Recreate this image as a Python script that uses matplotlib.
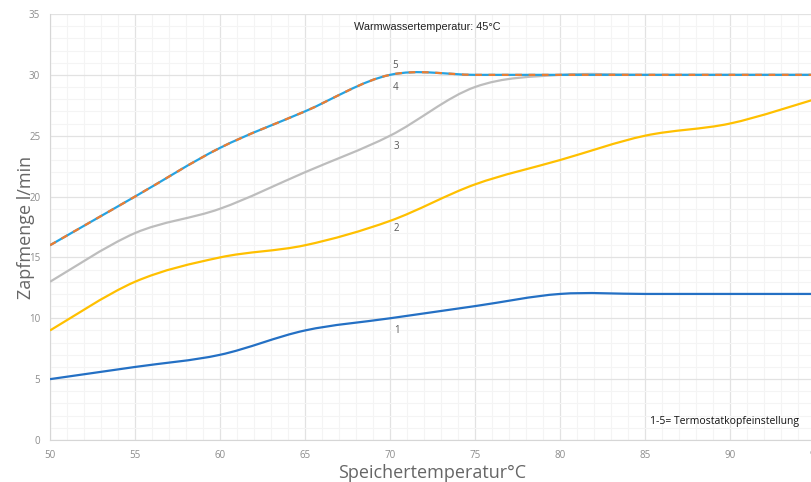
import matplotlib
matplotlib.use("Agg")
import matplotlib.pyplot as plt
import matplotlib.ticker as ticker
from matplotlib.path import Path
from matplotlib.patches import PathPatch

# ---- data ----
temps = [50, 55, 60, 65, 70, 75, 80, 85, 90, 95]
flow_1 = [5, 6, 7, 9, 10, 11, 12, 12, 12, 12]
flow_2 = [9, 13, 15, 16, 18, 21, 23, 25, 26, 28]
flow_3 = [13, 17, 19, 22, 25, 29, 30, 30, 30, 30]
flow_4 = [16, 20, 24, 27, 30, 30, 30, 30, 30, 30]
flow_5 = [16, 20, 24, 27, 30, 30, 30, 30, 30, 30]

labels = ["1", "2", "3", "4", "5"]
label_pos = [(70.4, 9.0), (70.4, 17.4), (70.4, 24.1), (70.3, 29.0), (70.3, 30.8)]


def smooth_path(xs, ys):
    # Excel-style smoothed line: cubic Bezier segments through the points
    verts = [(xs[0], ys[0])]
    codes = [Path.MOVETO]
    n = len(xs)
    for i in range(n - 1):
        x0, y0 = (xs[i - 1], ys[i - 1]) if i > 0 else (xs[i], ys[i])
        x1, y1 = xs[i], ys[i]
        x2, y2 = xs[i + 1], ys[i + 1]
        x3, y3 = (xs[i + 2], ys[i + 2]) if i + 2 < n else (x2, y2)
        c1 = (x1 + (x2 - x0) / 6, y1 + (y2 - y0) / 6)
        c2 = (x2 - (x3 - x1) / 6, y2 - (y3 - y1) / 6)
        verts += [c1, c2, (x2, y2)]
        codes += [Path.CURVE4] * 3
    return Path(verts, codes)


fig = plt.figure(figsize=(8.11, 4.82), dpi=100)
ax = fig.add_axes([50 / 811, 42 / 482, 765 / 811, 426 / 482])

series = [
    (flow_1, "#2470C4", "-"),
    (flow_2, "#FFC000", "-"),
    (flow_3, "#BDBDBD", "-"),
    (flow_4, "#26A2E0", "-"),
    (flow_5, "#ED7D31", (0, (3, 3))),
]
for ys, col, ls in series:
    ax.add_patch(PathPatch(smooth_path(temps, ys), facecolor="none",
                           edgecolor=col, linewidth=1.6, linestyle=ls,
                           capstyle="butt", zorder=3))

ax.set_xlim(50, 95)
ax.set_ylim(0, 35)
ax.xaxis.set_major_locator(ticker.MultipleLocator(5))
ax.xaxis.set_minor_locator(ticker.MultipleLocator(1))
ax.yaxis.set_major_locator(ticker.MultipleLocator(5))
ax.yaxis.set_minor_locator(ticker.MultipleLocator(1))
ax.grid(True, which="major", color="#E2E2E2", linewidth=0.9)
ax.grid(True, which="minor", color="#F4F4F4", linewidth=0.8)
ax.set_axisbelow(True)

for s in ["top", "right"]:
    ax.spines[s].set_visible(False)
for s in ["left", "bottom"]:
    ax.spines[s].set_color("#D6D6D6")
ax.tick_params(which="both", length=0, labelsize=7, labelcolor="#8C8C8C",
               labelfontfamily="Open Sans")
ax.tick_params(axis="x", pad=7)
ax.tick_params(axis="y", pad=7)

ax.set_xlabel("Speichertemperatur°C", fontsize=13, color="#666666",
              family="Open Sans", labelpad=2)
ax.set_ylabel("Zapfmenge l/min", fontsize=13, color="#666666",
              family="Open Sans", labelpad=-4)

for lab, (lx, ly) in zip(labels, label_pos):
    ax.text(lx, ly, lab, fontsize=7, color="#595959", family="Open Sans",
            ha="center", va="center", zorder=4)

ax.text(72.2, 33.9, "Warmwassertemperatur: 45°C", fontsize=7.8,
        family="Liberation Sans", ha="center", va="center", color="#222222")
ax.text(85.3, 1.5, "1-5= Termostatkopfeinstellung", fontsize=7.5,
        family="Open Sans", ha="left", va="center", color="#111111")

fig.savefig("out.png", dpi=100)
